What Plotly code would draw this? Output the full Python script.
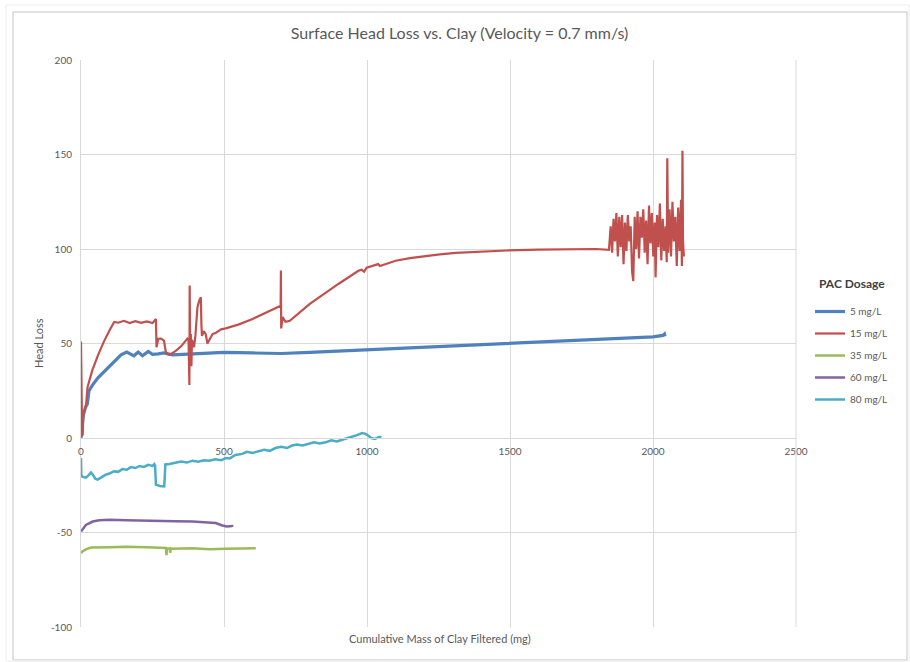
import plotly.graph_objects as go

# Cumulative mass of clay filtered (mg) and surface head loss for each PAC dosage
pac_5_x = [0, 3, 8, 15, 22, 28, 40, 60, 80, 100, 120, 140, 160, 175, 185, 200, 215, 235, 250, 270,
           290, 320, 400, 500, 600, 700, 800, 900, 1000, 1100, 1200, 1300, 1400, 1500, 1600, 1700,
           1800, 1900, 2000, 2035, 2040, 2042]
pac_5_y = [0, 5, 12, 16, 18, 25, 28, 32, 35, 38, 41, 44, 45.5, 44.5, 43.5, 45.5, 43.5, 45.8, 44.3, 44.5,
           45, 44, 44.5, 45.3, 45, 44.7, 45.3, 46, 46.4, 47.2, 47.8, 48.5, 49.2, 49.9, 50.6, 51.3,
           52.2, 52.8, 53.5, 54.3, 55, 53.8]

pac_15_x = [0, 1, 2, 4, 6, 8, 12, 18, 23, 40, 60, 80, 100, 116, 130, 150, 170, 190, 210, 230, 250,
            262, 264, 270, 280, 290, 296, 300, 310, 330, 350, 372, 376, 378, 379, 380, 382, 384, 386,
            388, 395, 400, 407, 413, 419, 421, 423, 430, 436, 442, 450, 460, 470, 483, 490, 506, 550,
            600, 650, 698, 699, 700, 705, 715, 730, 800, 900, 970, 981, 990, 999, 1039, 1045, 1100,
            1150, 1200, 1255, 1310, 1371, 1430, 1488, 1600, 1700, 1800, 1846,
            1852, 1857, 1862, 1867, 1872, 1877, 1882, 1887, 1892, 1897, 1902, 1907, 1912, 1917, 1922,
            1927, 1931, 1936, 1941, 1946, 1951, 1956, 1961, 1966, 1971, 1976, 1981, 1986, 1991, 1996,
            2001, 2006, 2009, 2014, 2019, 2024, 2029, 2034, 2039, 2044, 2048, 2050, 2053, 2058, 2063,
            2068, 2073, 2078, 2083, 2088, 2093, 2098, 2101, 2103, 2105, 2108]
pac_15_y = [51, 30, 5, 1, 2, 13, 14, 18, 27, 36, 44, 51, 57, 61.4, 61, 62, 60.8, 61.8, 60.9, 61.7, 60.8,
            63, 48, 52.5, 52.6, 51.5, 46, 44.5, 44, 46, 48.5, 52.6, 52, 30, 28, 80.7, 40, 55, 38,
            52, 48, 54, 69, 72.5, 74.5, 60, 54, 56.5, 55, 50, 52.5, 55, 55.5, 57, 57.5, 58, 60,
            63, 66.5, 70, 88.6, 58, 64, 61.5, 62, 71, 81.5, 88.5, 89, 88, 90.1, 92, 91, 93.8,
            95.2, 96.3, 97.2, 97.9, 98.4, 98.9, 99.2, 99.7, 100, 100, 99.6,
            112, 98, 116, 104, 119, 96, 117, 101, 118, 92, 114, 99, 118, 104, 112,
            88, 83, 117, 100, 120, 95, 117, 106, 121, 98, 115, 92, 123, 103, 119,
            96, 114, 85, 118, 101, 124, 94, 116, 99, 112, 93, 148, 98, 121, 96,
            125, 104, 117, 91, 122, 99, 126, 91, 152, 104, 96]

pac_35_x = [0, 5, 17, 35, 100, 157, 230, 297, 299, 301, 311, 312, 313, 390, 450, 506, 560, 611]
pac_35_y = [-61, -60, -58.9, -58, -57.8, -57.6, -57.8, -58.2, -62, -58.5, -58.4, -60.8, -58.6, -58.3,
            -58.8, -58.6, -58.4, -58.3]

pac_60_x = [0, 5, 17, 30, 41, 64, 100, 157, 220, 273, 330, 390, 440, 471, 494, 510, 529, 531]
pac_60_y = [-49.5, -48.5, -46, -45, -44.2, -43.5, -43.3, -43.5, -43.8, -44, -44, -44.2, -44.6, -45,
            -46.3, -46.8, -46.6, -47]

pac_80_x = [0, 1, 5, 17, 28, 35, 42, 50, 58, 70, 85, 99, 115, 130, 145, 160, 175, 190, 205, 220, 235,
            250, 256, 259, 262, 275, 291, 293, 295, 310, 331, 350, 370, 390, 410, 430, 448, 470, 490,
            506, 520, 540, 564, 580, 600, 622, 640, 660, 680, 700, 720, 738, 755, 775, 797, 815, 835,
            855, 875, 895, 913, 930, 948, 965, 983, 995, 1005, 1015, 1027, 1038, 1045, 1050]
pac_80_y = [-10.6, -19.5, -20.5, -21, -19.5, -18.2, -19.5, -21.5, -22, -21, -19.5, -18.8, -17.6, -17.9,
            -16.4, -16.8, -15.4, -15.9, -14.8, -15.3, -14.2, -14.8, -13.8, -14.5, -24.7, -25.4, -25.6,
            -20, -14, -13.8, -13.3, -12.5, -13, -12, -12.6, -11.8, -12, -11.2, -11.8, -10.6, -10.8,
            -9, -8.4, -7.3, -7.9, -6.8, -6.2, -6.8, -5.3, -4.7, -5.3, -4, -3.4, -4, -3, -2.3, -2.9,
            -2.3, -1.2, -1.8, -0.9, -0.2, 0.9, 1.5, 2.6, 2.2, 1.2, 0, -0.5, 0, 0.6, 0.3]

series_names = ["5 mg/L", "15 mg/L", "35 mg/L", "60 mg/L", "80 mg/L"]
series_x = [pac_5_x, pac_15_x, pac_35_x, pac_60_x, pac_80_x]
series_y = [pac_5_y, pac_15_y, pac_35_y, pac_60_y, pac_80_y]
series_colors = ["#4F81BD", "#C0504D", "#9BBB59", "#8064A2", "#4BACC6"]
series_widths = [3.2, 2.2, 2.5, 2.5, 2.5]

x_ticks = [0, 500, 1000, 1500, 2000, 2500]
y_ticks = [-100, -50, 0, 50, 100, 150, 200]

FONT = "Lato, 'Open Sans', sans-serif"
TEXT = "#595959"
GRID = "#D9D9D9"

fig = go.Figure()
for name, xs, ys, col, w in zip(series_names, series_x, series_y, series_colors, series_widths):
    fig.add_trace(go.Scatter(x=xs, y=ys, mode="lines", name=name, legendgroup=name,
                             line=dict(color=col, width=w)))

fig.update_layout(
    width=910, height=662,
    margin=dict(l=81, r=114, t=60, b=35),
    paper_bgcolor="white", plot_bgcolor="white",
    font=dict(family=FONT, color=TEXT, size=10),
    title=dict(text="Surface Head Loss vs. Clay (Velocity = 0.7 mm/s)",
               x=0.505, xanchor="center", y=1 - 33 / 662, yanchor="middle",
               font=dict(family=FONT, size=16, color=TEXT)),
    xaxis=dict(range=[0, 2500], tickvals=x_ticks, ticktext=[str(v) for v in x_ticks],
               showgrid=True, gridcolor=GRID, gridwidth=1, zeroline=False,
               showline=True, linecolor=GRID, linewidth=1,
               anchor="free", position=1 / 3, ticks="", ticklabelstandoff=4,
               tickfont=dict(size=10, color=TEXT)),
    yaxis=dict(range=[-100, 200], tickvals=y_ticks, ticktext=[str(v) for v in y_ticks],
               showgrid=True, gridcolor=GRID, gridwidth=1, zeroline=False,
               showline=True, linecolor=GRID, linewidth=1, mirror=False,
               ticks="", ticklabelstandoff=6, tickfont=dict(size=10, color=TEXT)),
    legend=dict(x=(810 - 81) / 715, xanchor="left", y=(627 - 297) / 567, yanchor="top",
                traceorder="grouped", tracegroupgap=3,
                font=dict(family=FONT, size=10, color=TEXT),
                bgcolor="rgba(0,0,0,0)"),
    showlegend=True,
)

# Right edge of the plot area
fig.add_shape(type="line", xref="paper", yref="paper", x0=1, x1=1, y0=0, y1=1,
              line=dict(color=GRID, width=1))

# Legend heading
fig.add_annotation(text="<b>PAC Dosage</b>", xref="paper", yref="paper",
                   x=(852 - 81) / 715, y=(627 - 283) / 567, xanchor="center", yanchor="middle",
                   showarrow=False, font=dict(family=FONT, size=12, color="#404040"))

# Axis titles
fig.add_annotation(text="Cumulative Mass of Clay Filtered (mg)", xref="paper", yref="paper",
                   x=(440 - 81) / 715, y=(627 - 638) / 567, xanchor="center", yanchor="middle",
                   showarrow=False, font=dict(family=FONT, size=11, color=TEXT))
fig.add_annotation(text="Head Loss", xref="paper", yref="paper",
                   x=(38 - 81) / 715, y=(627 - 343) / 567, xanchor="center", yanchor="middle",
                   textangle=-90, showarrow=False, font=dict(family=FONT, size=11, color=TEXT))

# Chart border
fig.add_shape(type="rect", xref="paper", yref="paper",
              x0=(13 - 81) / 715, x1=(907 - 81) / 715,
              y0=(627 - 660) / 567, y1=(627 - 12) / 567,
              line=dict(color="#D9D9D9", width=1.5), fillcolor="rgba(0,0,0,0)", layer="below")
fig.add_shape(type="rect", xref="paper", yref="paper",
              x0=(6 - 81) / 715, x1=(909 - 81) / 715,
              y0=(627 - 661) / 567, y1=(627 - 5) / 567,
              line=dict(color="#EEEEEE", width=1), fillcolor="rgba(0,0,0,0)", layer="below")

fig.write_html("out.html")
